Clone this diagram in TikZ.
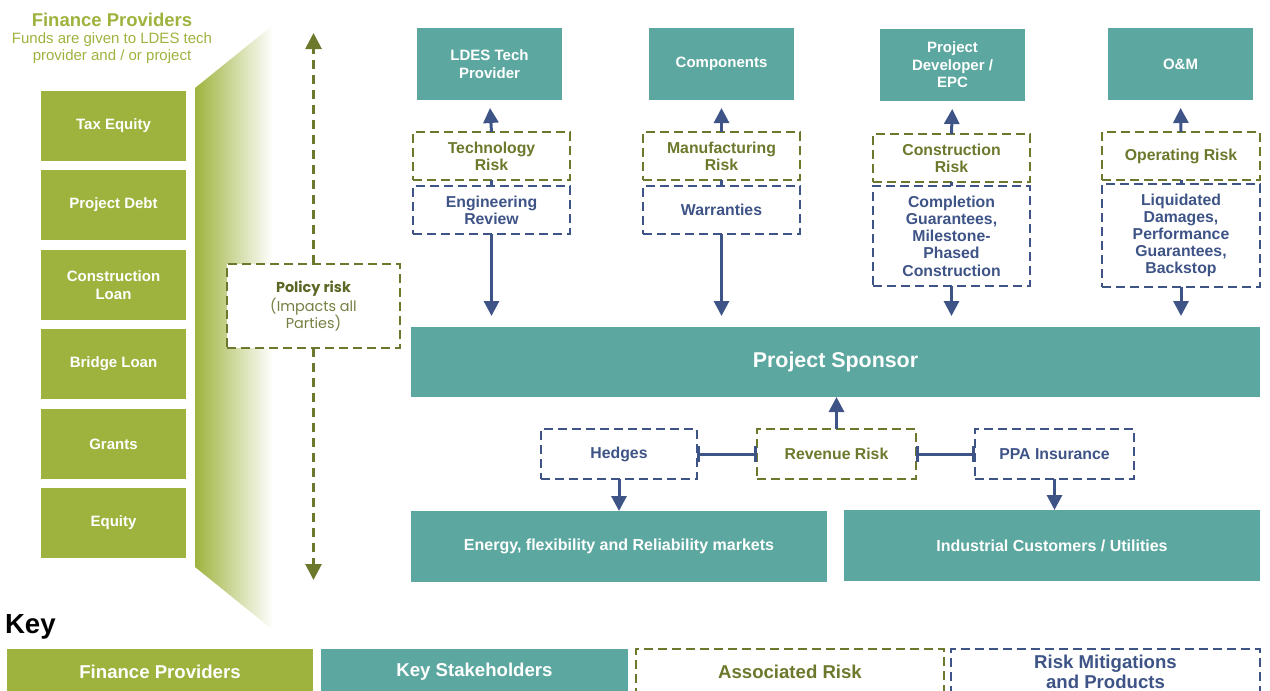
\documentclass[tikz,border=0pt]{standalone}
\usepackage{fontspec}
\setmainfont{Liberation Sans}
\newfontfamily\geofont{Poppins}
\usetikzlibrary{arrows.meta}

\definecolor{fingreen}{RGB}{158,179,62}
\definecolor{stteal}{RGB}{92,168,160}
\definecolor{riskolive}{RGB}{108,121,44}
\definecolor{mitnavy}{RGB}{62,84,135}
\definecolor{policytxt}{RGB}{118,128,68}

% rectangle node given by its corners (in px units of the picture)
\newcommand\rectnode[7]{%
  \pgfmathsetmacro\rcx{(#3+#5)/2}%
  \pgfmathsetmacro\rcy{(#4+#6)/2}%
  \pgfmathsetmacro\rw{(#5-#3)*0.5}%
  \pgfmathsetmacro\rh{(#6-#4)*0.5}%
  \node[#1, minimum width=\rw pt, minimum height=\rh pt] (#2) at (\rcx,\rcy) {#7};}

\tikzset{
  base/.style={inner sep=0pt, outer sep=0pt, align=center},
  finbox/.style={base, fill=fingreen, text=white,
    font=\bfseries\fontsize{7.5}{9}\selectfont},
  tealbox/.style={base, fill=stteal, text=white,
    font=\bfseries\fontsize{7.5}{8.8}\selectfont},
  riskbox/.style={base, draw=riskolive, line width=1.2pt, fill=white,
    dash pattern=on 4.5pt off 2.5pt, text=riskolive,
    font=\bfseries\fontsize{7.9}{8.6}\selectfont},
  mitbox/.style={base, draw=mitnavy, line width=1.2pt, fill=white,
    dash pattern=on 4.5pt off 2.5pt, text=mitnavy,
    font=\bfseries\fontsize{7.9}{8.6}\selectfont},
  navyarrow/.style={draw=mitnavy, line width=1.5pt,
    -{Triangle[width=7.5pt,length=7.5pt]}},
  navyline/.style={draw=mitnavy, line width=1.5pt},
  policyarrow/.style={draw=riskolive, line width=1.4pt,
    dash pattern=on 4.5pt off 3pt, -{Triangle[width=8pt,length=8pt]}},
}

\begin{document}
\begin{tikzpicture}[x=0.5pt,y=-0.5pt]
\useasboundingbox (0,0) rectangle (1270,691);
\clip (0,0) rectangle (1270,691);

% funnel from finance providers fading into the project
\shade[left color=fingreen, right color=white]
  (195,88) -- (273,25) -- (273,630) -- (195,567) -- cycle;

% finance providers heading
\node[base, text=fingreen, font=\bfseries\fontsize{9.25}{11}\selectfont]
  (fintitle) at (112,20) {Finance Providers};
\node[base, text=fingreen, font=\fontsize{7.5}{8.5}\selectfont]
  (finsub) at (112,48) {Funds are given to LDES tech\\provider and / or project};

% finance providers
\rectnode{finbox}{taxeq}{41}{91}{186}{161}{Tax Equity}
\rectnode{finbox}{pdebt}{41}{170}{186}{240}{Project Debt}
\rectnode{finbox}{cloan}{41}{250}{186}{320}{Construction\\Loan}
\rectnode{finbox}{bloan}{41}{329}{186}{399}{Bridge Loan}
\rectnode{finbox}{grants}{41}{409}{186}{479}{Grants}
\rectnode{finbox}{equity}{41}{488}{186}{558}{Equity}

% policy risk across all parties
\rectnode{riskbox, draw=riskolive, text=policytxt,
  font=\geofont\fontsize{7.2}{8.6}\selectfont}{policy}{227}{264}{400}{348}%
  {{\bfseries\color{riskolive!85!black}Policy risk}\\(Impacts all\\Parties)}
\coordinate (ptop) at (313.5,33);
\coordinate (pbot) at (313.5,580);
\draw[policyarrow] (policy.north) -- (ptop);
\draw[policyarrow] (policy.south) -- (pbot);

% key stakeholders (top row)
\rectnode{tealbox}{ldes}{417}{28}{562}{100}{LDES Tech\\Provider}
\rectnode{tealbox}{comp}{649}{28}{794}{100}{Components}
\rectnode{tealbox}{dev}{880}{29}{1025}{101}{Project\\Developer /\\EPC}
\rectnode{tealbox}{om}{1108}{28}{1253}{100}{O\&M}

% associated risks
\rectnode{riskbox}{tech}{413}{132}{570}{180}{Technology\\Risk}
\rectnode{riskbox}{manu}{643}{132}{800}{180}{Manufacturing\\Risk}
\rectnode{riskbox}{cons}{873}{134}{1030}{182}{Construction\\Risk}
\rectnode{riskbox}{oper}{1102}{132}{1260}{180}{Operating Risk}

% mitigations
\rectnode{mitbox}{eng}{413}{186}{570}{234}{Engineering\\Review}
\rectnode{mitbox}{warr}{643}{186}{800}{234}{Warranties}
\rectnode{mitbox}{compl}{873}{186}{1030}{286}{Completion\\Guarantees,\\Milestone-\\Phased\\Construction}
\rectnode{mitbox}{liq}{1102}{184}{1260}{287}{Liquidated\\Damages,\\Performance\\Guarantees,\\Backstop}

% project sponsor and markets
\rectnode{tealbox, font=\bfseries\fontsize{10.7}{12}\selectfont}{sponsor}{411}{327}{1260}{397}{Project Sponsor}
\rectnode{tealbox, font=\bfseries\fontsize{8}{9.5}\selectfont}{energy}{411}{511}{827}{582}{Energy, flexibility and Reliability markets}
\rectnode{tealbox, font=\bfseries\fontsize{8}{9.5}\selectfont}{indus}{844}{510}{1260}{581}{Industrial Customers / Utilities}

% revenue risk row
\rectnode{mitbox}{hedges}{541}{429}{697}{479}{Hedges}
\rectnode{riskbox}{rev}{757}{429}{916}{479}{Revenue Risk}
\rectnode{mitbox}{ppa}{975}{429}{1134}{479}{PPA Insurance}

% connectors: risks up to stakeholders
\foreach \r/\s in {tech/ldes, manu/comp, cons/dev, oper/om}
  \draw[navyarrow, shorten >=4pt] (\r.north) -- (\s.south);
% risk to mitigation links
\foreach \r/\m in {tech/eng, manu/warr, cons/compl, oper/liq}
  \draw[navyline] (\r.south) -- (\m.north);
% mitigations down to the sponsor
\foreach \m in {eng, warr, compl, liq}
  \draw[navyarrow, shorten >=5.5pt] (\m.south) -- (\m.south |- sponsor.north);

\draw[navyarrow] (rev.north) -- (rev.north |- sponsor.south);
\draw[navyline, {Bar[width=8pt]}-{Bar[width=8pt]}] (hedges.east) -- (rev.west);
\draw[navyline, {Bar[width=8pt]}-{Bar[width=8pt]}] (rev.east) -- (ppa.west);
\draw[navyarrow] (hedges.south) -- (hedges.south |- energy.north);
\draw[navyarrow] (ppa.south) -- (ppa.south |- indus.north);

% key
\node[base, anchor=west, font=\bfseries\fontsize{13.8}{15}\selectfont] (keytitle) at (5,627) {Key};
\rectnode{finbox, font=\bfseries\fontsize{9.3}{10}\selectfont}{kfin}{7}{649}{313}{694}{Finance Providers}
\rectnode{tealbox, font=\bfseries\fontsize{9.3}{10}\selectfont}{kteal}{321}{649}{628}{694}{Key Stakeholders}
\rectnode{riskbox, font=\bfseries\fontsize{9.3}{10}\selectfont}{krisk}{636}{649}{944}{694}{Associated Risk}
\rectnode{mitbox, font=\bfseries\fontsize{9.3}{10}\selectfont}{kmit}{951}{649}{1260}{694}{Risk Mitigations\\and Products}
\end{tikzpicture}
\end{document}
